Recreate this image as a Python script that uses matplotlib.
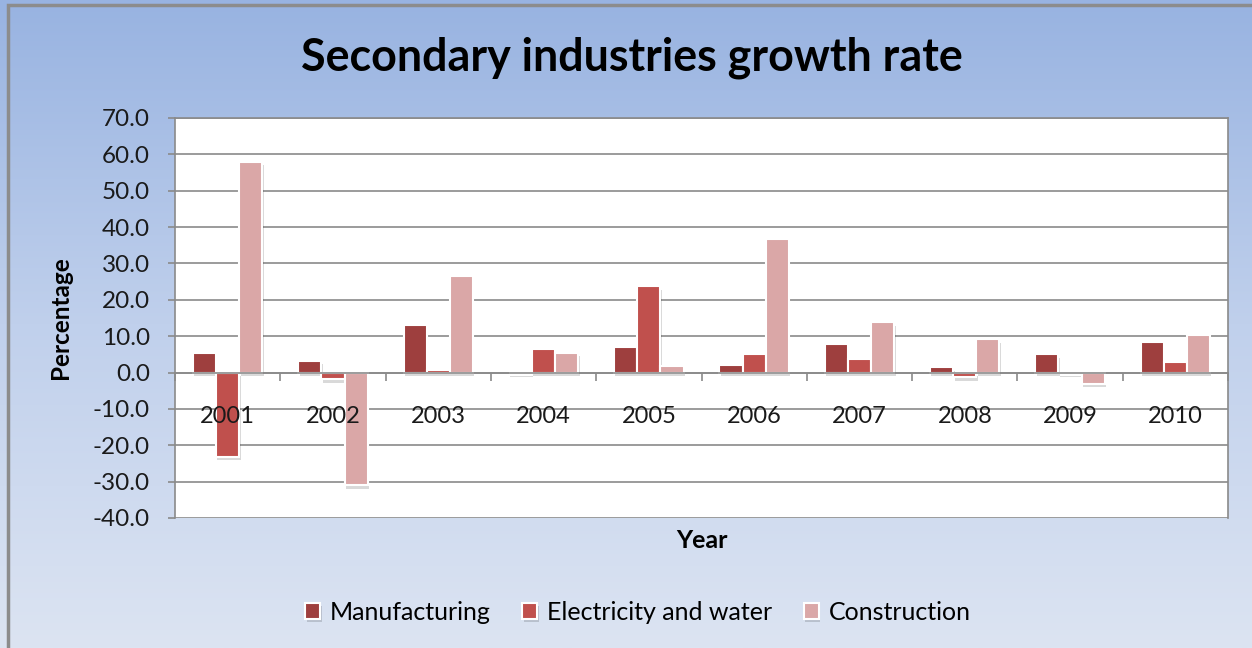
import numpy as np
import matplotlib
matplotlib.use("Agg")
import matplotlib.pyplot as plt
import matplotlib.patheffects as pe
from matplotlib.colors import LinearSegmentedColormap
from matplotlib.patches import Rectangle

plt.rcParams['font.family'] = ['Lato', 'DejaVu Sans']

years = ['2001', '2002', '2003', '2004', '2005', '2006', '2007', '2008', '2009', '2010']
manufacturing = [5.5, 3.3, 13.2, -0.2, 6.9, 2.2, 7.9, 1.5, 5.0, 8.5]
electricity_water = [-23.2, -1.9, 0.6, 6.4, 23.7, 5.0, 3.7, -1.3, -0.2, 3.0]
construction = [57.9, -31.0, 26.6, 5.5, 1.8, 36.7, 13.8, 9.2, -3.1, 10.3]

series = [
    ('Manufacturing', manufacturing, '#9E3F3E'),
    ('Electricity and water', electricity_water, '#C0504D'),
    ('Construction', construction, '#DAA7A7'),
]

fig = plt.figure(figsize=(12.52, 6.48), dpi=100)

# blue gradient background for the whole chart
bg = fig.add_axes([0, 0, 1, 1], zorder=-10)
grad = LinearSegmentedColormap.from_list('bg', ['#98B3E1', '#C0D0EC', '#DCE4F2'])
bg.imshow(np.linspace(0, 1, 256).reshape(-1, 1), aspect='auto', cmap=grad,
          extent=[0, 1, 0, 1])
bg.set_xlim(0, 1)
bg.set_ylim(0, 1)
bg.axis('off')
fig.patches.append(Rectangle((8 / 1252, -0.1), 1.2, 1 - 5 / 648 + 0.1,
                             transform=fig.transFigure, fill=False,
                             edgecolor='#8C8C8C', linewidth=2.5, zorder=-5))

ax = fig.add_axes([175 / 1252, 1 - 518 / 648, 1053 / 1252, 400 / 648])
ax.set_facecolor('white')

yticks = np.arange(-40, 71, 10)
# grid drawn by hand so the axis (and its year labels) can sit above the bars
for yv in yticks:
    ax.axhline(yv, color='#8A8A8A', linewidth=1.2, zorder=0.5)

x = np.arange(len(years))
width = 0.22
shadow = [pe.SimplePatchShadow(offset=(1, -2.5), shadow_rgbFace='black', alpha=0.15), pe.Normal()]
for k, (name, vals, color) in enumerate(series):
    bars = ax.bar(x + (k - 1) * width, vals, width, color=color, edgecolor='white',
                  linewidth=1.5, label=name, zorder=2)
    for b in bars:
        b.set_path_effects(shadow)

ax.set_xlim(-0.5, len(years) - 0.5)
ax.set_ylim(-40, 70)
ax.set_yticks(yticks)
ax.yaxis.set_major_formatter(matplotlib.ticker.FormatStrFormatter('%.1f'))
ax.set_axisbelow(False)

# category axis runs through zero
ax.spines['bottom'].set_position(('data', 0))
for side in ['bottom', 'left', 'top', 'right']:
    ax.spines[side].set_color('#8A8A8A')
    ax.spines[side].set_linewidth(1.2)

ax.set_xticks(x)
ax.set_xticklabels(years)
ax.set_xticks(np.arange(len(years) + 1) - 0.5, minor=True)
ax.tick_params(axis='x', which='major', length=0, pad=24, labelsize=17, labelcolor='#1A1A1A')
ax.tick_params(axis='x', which='minor', length=6, width=1.2, color='#8A8A8A', direction='out')
ax.tick_params(axis='y', length=5, width=1.2, color='#8A8A8A', pad=13, labelsize=17.5,
               labelcolor='#1A1A1A')

ax.set_ylabel('Percentage', fontsize=17.5, fontweight='bold', va='center')
ax.yaxis.set_label_coords(-115 / 1053, 0.5)
ax.set_xlabel('Year', fontsize=18, fontweight='bold', va='center')
ax.xaxis.set_label_coords(0.5, -22 / 400)

fig.text(632 / 1252, 1 - 58 / 648, 'Secondary industries growth rate', fontsize=32.3,
         fontweight='bold', ha='center', va='center', color='black')

fig.legend(loc='center', bbox_to_anchor=(638 / 1252, 1 - 612 / 648), ncol=3, frameon=False,
           fontsize=18, handlelength=0.6, handleheight=0.6, handletextpad=0.4,
           columnspacing=1.25)

fig.savefig('out.png', dpi=100)
